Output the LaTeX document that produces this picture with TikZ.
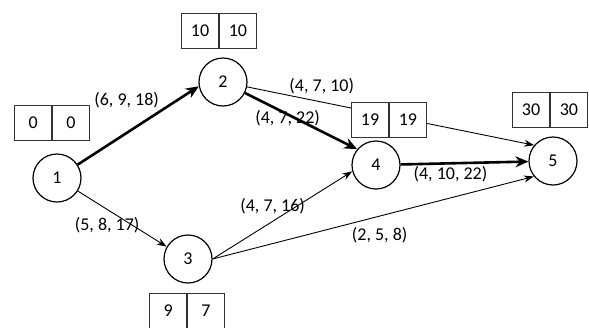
\documentclass[tikz,border=0pt]{standalone}
\usepackage{fontspec}
\setmainfont{Carlito}
\usepackage{tikz}
\usetikzlibrary{positioning,arrows.meta}

\begin{document}
\begin{tikzpicture}[x=1pt, y=-1pt,
    font=\fontsize{18}{20}\selectfont,
    event/.style={circle, draw, line width=1.2pt, minimum size=48pt, inner sep=0pt},
    cell/.style={draw=black!80, line width=0.8pt, fill=white, minimum width=37pt, minimum height=35pt, inner sep=0pt},
    crit/.style={-{Stealth[length=13pt,width=11pt]}, line width=2.6pt},
    act/.style={-{Stealth[length=10pt,width=7pt]}, line width=0.9pt},
    lab/.style={inner sep=1pt}]
    \useasboundingbox (0,0) rectangle (589,327);
    % Events
    \node[event] (n1) at (57,178) {1};
    \node[event] (n2) at (223,82) {2};
    \node[event] (n3) at (188,259) {3};
    \node[event] (n4) at (376,165) {4};
    \node[event] (n5) at (553,161) {5};
    % Activities (a, m, b)
    \draw[crit] (n1) -- (n2.190) node[lab, pos=0.69, anchor=south east] {(6, 9, 18)};
    \draw[crit] (n2) -- (n4.140) node[lab, pos=0.38, yshift=-4pt] {(4, 7, 22)};
    \draw[act] (n2) -- (n5.140) node[lab, pos=0.26, above=7pt] {(4, 7, 10)};
    \draw[crit] (n4) -- (n5) node[lab, pos=0.39, below=1pt] {(4, 10, 22)};
    \draw[act] (n1) -- (n3.150) node[lab, pos=0.33, yshift=-16pt] {(5, 8, 17)};
    \draw[act] (n3.east) -- (n4.195) node[lab, pos=0.43, yshift=15pt] {(4, 7, 16)};
    \draw[act] (n3.east) -- (n5.219) node[lab, pos=0.52, yshift=-19pt] {(2, 5, 8)};
    % Earliest / latest times
    \node[cell, anchor=east] (t1a) at (52,123) {0};
    \node[cell, right=0pt of t1a] (t1b) {0};
    \node[cell, anchor=east] (t2a) at (219,31) {10};
    \node[cell, right=0pt of t2a] (t2b) {10};
    \node[cell, anchor=east] (t3a) at (187,311) {9};
    \node[cell, right=0pt of t3a] (t3b) {7};
    \node[cell, anchor=east] (t4a) at (389,120) {19};
    \node[cell, right=0pt of t4a] (t4b) {19};
    \node[cell, anchor=east] (t5a) at (550,110) {30};
    \node[cell, right=0pt of t5a] (t5b) {30};
\end{tikzpicture}
\end{document}
